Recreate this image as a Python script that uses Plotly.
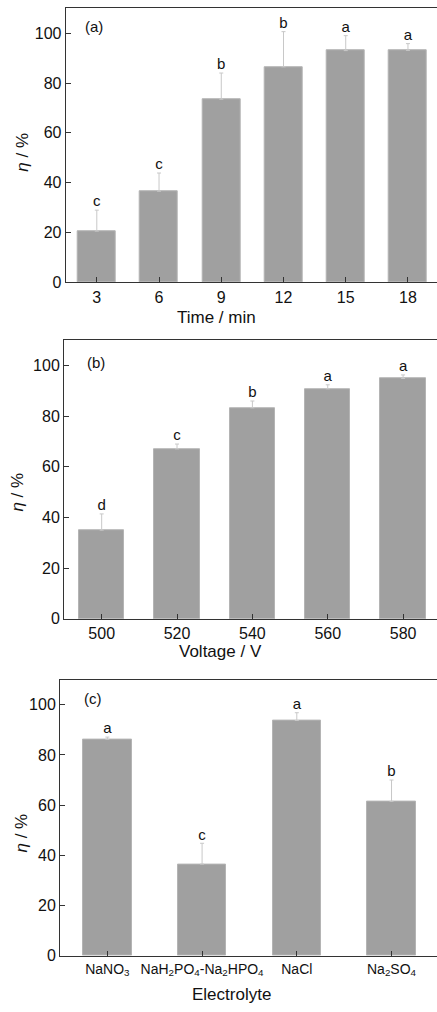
import plotly.graph_objects as go

# Panel (a): Time
time_min = [3, 6, 9, 12, 15, 18]
eta_time = [20.6, 36.6, 73.5, 86.5, 93.0, 93.1]
err_time = [8.4, 7.3, 10.5, 14.1, 6.0, 2.7]
lab_time = ["c", "c", "b", "b", "a", "a"]

# Panel (b): Voltage
voltage = [500, 520, 540, 560, 580]
eta_volt = [35.0, 67.1, 83.3, 90.8, 94.9]
err_volt = [6.4, 1.9, 2.7, 1.6, 1.4]
lab_volt = ["d", "c", "b", "a", "a"]

# Panel (c): Electrolyte
electrolyte = ["NaNO<sub>3</sub>", "NaH<sub>2</sub>PO<sub>4</sub>-Na<sub>2</sub>HPO<sub>4</sub>",
               "NaCl", "Na<sub>2</sub>SO<sub>4</sub>"]
eta_elec = [86.2, 36.5, 93.7, 61.5]
err_elec = [0.9, 8.3, 3.1, 8.5]
lab_elec = ["a", "c", "a", "b"]

y_ticks = [0, 20, 40, 60, 80, 100]

W, H = 437, 1012
FONT = "Liberation Sans, Arial, sans-serif"
BAR = "#a0a0a0"
ERR = "#c8c8c8"

fig = go.Figure()

panels = [
    dict(x=time_min, y=eta_time, e=err_time, lab=lab_time, width=1.83,
         xa="x", ya="y", xdom=[65.7 / W, 1], ydom=[1 - 285 / H, 1 - 8.3 / H],
         xrange=[1.5, 19.4], title="Time / min", tpos=(216, 320), epos=(23, 154),
         tag="(a)", tagpos=(83, 27)),
    dict(x=voltage, y=eta_volt, e=err_volt, lab=lab_volt, width=12.0,
         xa="x2", ya="y2", xdom=[64 / W, 1], ydom=[1 - 624.3 / H, 1 - 343.3 / H],
         xrange=[490, 589], title="Voltage / V", tpos=(220, 657), epos=(18, 497),
         tag="(b)", tagpos=(85, 366)),
    dict(x=electrolyte, y=eta_elec, e=err_elec, lab=lab_elec, width=0.51,
         xa="x3", ya="y3", xdom=[60 / W, 1], ydom=[1 - 964.3 / H, 1 - 685.7 / H],
         xrange=[-0.5, 3.48], title="Electrolyte", tpos=(232, 1003), epos=(22, 841),
         tag="(c)", tagpos=(82, 705)),
]

annotations = []
for i, p in enumerate(panels):
    fig.add_trace(go.Bar(
        x=p["x"], y=p["y"], width=p["width"], xaxis=p["xa"], yaxis=p["ya"],
        marker=dict(color=BAR, line=dict(color="#b4b4b4", width=1)),
        error_y=dict(type="data", array=p["e"], arrayminus=[0] * len(p["e"]),
                     symmetric=False, color=ERR, thickness=1, width=2),
        showlegend=False,
    ))
    fig.add_trace(go.Scatter(
        x=p["x"], y=[a + b for a, b in zip(p["y"], p["e"])],
        xaxis=p["xa"], yaxis=p["ya"], mode="text", text=p["lab"],
        textposition="top center", textfont=dict(family=FONT, size=15, color="#111"),
        showlegend=False, cliponaxis=False,
    ))
    sfx = "" if i == 0 else str(i + 1)
    axis_common = dict(showline=True, linecolor="#333", linewidth=1, ticks="inside",
                       ticklen=5, tickcolor="#333", showgrid=False, zeroline=False,
                       tickfont=dict(family=FONT, size=16, color="#111"))
    xa = dict(domain=p["xdom"], range=p["xrange"], mirror=True, anchor="y" + sfx,
              tickvals=p["x"], **axis_common)
    if i == 2:
        xa["tickfont"] = dict(family=FONT, size=14, color="#111")
    ya = dict(domain=p["ydom"], range=[0, 110], mirror=False, anchor="x" + sfx,
              tickvals=y_ticks, **axis_common)
    fig.layout["xaxis" + sfx] = xa
    fig.layout["yaxis" + sfx] = ya
    annotations.append(dict(text=p["title"], x=p["tpos"][0] / W, y=1 - p["tpos"][1] / H,
                            xref="paper", yref="paper", showarrow=False,
                            xanchor="center", yanchor="middle",
                            font=dict(family=FONT, size=17, color="#111")))
    annotations.append(dict(text="<i>η</i> / %", x=p["epos"][0] / W, y=1 - p["epos"][1] / H,
                            xref="paper", yref="paper", showarrow=False, textangle=-90,
                            xanchor="center", yanchor="middle",
                            font=dict(family=FONT, size=17, color="#111")))
    annotations.append(dict(text=p["tag"], x=p["tagpos"][0] / W, y=1 - p["tagpos"][1] / H,
                            xref="paper", yref="paper", showarrow=False,
                            xanchor="left", yanchor="middle",
                            font=dict(family=FONT, size=15, color="#111")))

fig.update_layout(
    width=W, height=H, margin=dict(l=0, r=0, t=0, b=0),
    paper_bgcolor="white", plot_bgcolor="white",
    annotations=annotations, bargap=0,
)

fig.write_html("out.html")
